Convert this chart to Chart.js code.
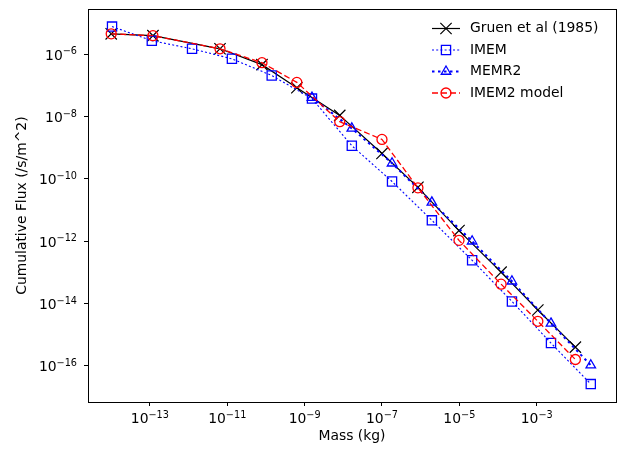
<!DOCTYPE html>
<html>
<head>
<meta charset="utf-8">
<script src="https://cdn.jsdelivr.net/npm/chart.js@4/dist/chart.umd.min.js"></script>
<style>
  html, body { margin: 0; padding: 0; background: #fff; }
  #wrap { width: 632px; height: 450px; }
</style>
</head>
<body>
<div id="wrap"><canvas id="fluxChart" width="632" height="450"></canvas></div>
<script>
// data (mass in kg, flux in /s/m^2)
const gruenMass = [1.0e-14, 1.2e-13, 6.5e-12, 7.9e-11, 6.3e-10, 8.1e-9, 1.0e-7, 8.5e-7, 9.8e-6, 1.2e-4, 1.07e-3, 1.0e-2];
const gruenFlux = [4.57e-6, 3.98e-6, 1.51e-6, 4.68e-7, 8.5e-8, 1.1e-8, 6.6e-10, 5.4e-11, 2.2e-12, 1.02e-13, 6.2e-15, 4.0e-16];

const imemMass = [1.05e-14, 1.12e-13, 1.23e-12, 1.32e-11, 1.41e-10, 1.55e-9, 1.66e-8, 1.82e-7, 1.95e-6, 2.14e-5, 2.29e-4, 2.34e-3, 2.5e-2];
const imemFlux = [7.8e-6, 2.75e-6, 1.51e-6, 7.2e-7, 2.1e-7, 3.8e-8, 1.17e-9, 8.3e-11, 4.7e-12, 2.45e-13, 1.17e-14, 5.4e-16, 2.6e-17];

const memr2Mass = [1.55e-9, 1.66e-8, 1.82e-7, 1.95e-6, 2.14e-5, 2.29e-4, 2.34e-3, 2.5e-2];
const memr2Flux = [4.1e-8, 4.2e-9, 3.2e-10, 1.78e-11, 1.0e-12, 5.2e-14, 2.3e-15, 1.05e-16];

const imem2Mass = [1.0e-14, 1.2e-13, 6.5e-12, 7.9e-11, 6.3e-10, 8.1e-9, 1.0e-7, 8.5e-7, 9.8e-6, 1.2e-4, 1.07e-3, 1.0e-2];
const imem2Flux = [4.57e-6, 3.98e-6, 1.51e-6, 5.4e-7, 1.26e-7, 6.9e-9, 1.86e-9, 5.2e-11, 1.07e-12, 4.2e-14, 2.7e-15, 1.6e-16];

const xTickExps = [-13, -11, -9, -7, -5, -3];
const yTickExps = [-16, -14, -12, -10, -8, -6];

const FONT = '"DejaVu Sans", sans-serif';

function pairs(xs, ys) {
    return xs.map((x, i) => ({ x: x, y: ys[i] }));
}

const datasets = [
    {
        label: 'Gruen et al (1985)',
        data: pairs(gruenMass, gruenFlux),
        borderColor: '#000000',
        borderWidth: 1.2,
        pointStyle: 'crossRot',
        pointRadius: 8,
        pointBorderWidth: 1.2,
        order: 4
    },
    {
        label: 'IMEM',
        data: pairs(imemMass, imemFlux),
        borderColor: '#0000ff',
        borderWidth: 1.1,
        borderDash: [2, 2.2],
        pointStyle: 'rect',
        pointRadius: 6.5,
        pointBorderWidth: 1.3,
        order: 3
    },
    {
        label: 'MEMR2',
        data: pairs(memr2Mass, memr2Flux),
        borderColor: '#0000ff',
        borderWidth: 2,
        borderDash: [2.5, 3.5],
        pointStyle: 'triangle',
        pointRadius: 5.5,
        pointBorderWidth: 1.3,
        order: 2
    },
    {
        label: 'IMEM2 model',
        data: pairs(imem2Mass, imem2Flux),
        borderColor: '#ff0000',
        borderWidth: 1.3,
        borderDash: [6, 3],
        pointStyle: 'circle',
        pointRadius: 5,
        pointBorderWidth: 1.3,
        order: 1
    }
];

datasets.forEach(ds => {
    ds.backgroundColor = 'rgba(0,0,0,0)';
    ds.pointBackgroundColor = 'rgba(0,0,0,0)';
    ds.pointBorderColor = ds.borderColor;
    ds.tension = 0;
    ds.fill = false;
});

// 10^n labels drawn the way matplotlib mathtext does it
function drawPower(ctx, exp, x, baseY, align) {
    const baseFont = '13.9px ' + FONT;
    const supFont = '9.7px ' + FONT;
    const supText = '\u2212' + Math.abs(exp);
    ctx.font = baseFont;
    const wBase = ctx.measureText('10').width;
    ctx.font = supFont;
    const wSup = ctx.measureText(supText).width;
    const total = wBase + wSup;
    let left = align === 'right' ? x - total : x - total / 2;
    ctx.fillStyle = '#000';
    ctx.textAlign = 'left';
    ctx.textBaseline = 'alphabetic';
    ctx.font = baseFont;
    ctx.fillText('10', left, baseY);
    ctx.font = supFont;
    ctx.fillText(supText, left + wBase, baseY - 5.4);
}

function drawMarker(ctx, style, x, y, r) {
    ctx.beginPath();
    if (style === 'crossRot') {
        const o = r * Math.SQRT1_2;
        ctx.moveTo(x - o, y - o); ctx.lineTo(x + o, y + o);
        ctx.moveTo(x - o, y + o); ctx.lineTo(x + o, y - o);
    } else if (style === 'rect') {
        const s = r * Math.SQRT1_2;
        ctx.rect(x - s, y - s, 2 * s, 2 * s);
    } else if (style === 'triangle') {
        ctx.moveTo(x, y - r);
        ctx.lineTo(x + r * Math.sin(Math.PI * 2 / 3), y - r * Math.cos(Math.PI * 2 / 3));
        ctx.lineTo(x + r * Math.sin(Math.PI * 4 / 3), y - r * Math.cos(Math.PI * 4 / 3));
        ctx.closePath();
    } else {
        ctx.arc(x, y, r, 0, Math.PI * 2);
    }
    ctx.stroke();
}

const framePlugin = {
    id: 'frameAndLabels',
    afterDraw(chart) {
        const ctx = chart.ctx;
        const a = chart.chartArea;
        ctx.save();
        // axes box
        ctx.strokeStyle = '#000';
        ctx.lineWidth = 1;
        ctx.setLineDash([]);
        ctx.strokeRect(Math.round(a.left) + 0.5, Math.round(a.top) + 0.5,
                       Math.round(a.right - a.left), Math.round(a.bottom - a.top));

        // tick labels
        const xs = chart.scales.x;
        xs.ticks.forEach(t => {
            const px = xs.getPixelForValue(t.value);
            drawPower(ctx, Math.round(Math.log10(t.value)), px, a.bottom + 21, 'center');
        });
        const ys = chart.scales.y;
        ys.ticks.forEach(t => {
            const py = ys.getPixelForValue(t.value);
            drawPower(ctx, Math.round(Math.log10(t.value)), a.left - 11, py + 5.5, 'right');
        });

        // legend, upper right
        const rowY = [28.5, 50, 71.5, 93];
        const handleX = 432, handleW = 28, textX = 470;
        chart.data.datasets.forEach((ds, i) => {
            const y = rowY[i];
            ctx.strokeStyle = ds.borderColor;
            ctx.lineWidth = ds.borderWidth;
            ctx.setLineDash(ds.borderDash || []);
            ctx.beginPath();
            ctx.moveTo(handleX, y);
            ctx.lineTo(handleX + handleW, y);
            ctx.stroke();
            ctx.setLineDash([]);
            ctx.lineWidth = ds.pointBorderWidth;
            drawMarker(ctx, ds.pointStyle, handleX + handleW / 2, y, ds.pointRadius);
            ctx.fillStyle = '#000';
            ctx.font = '13.9px ' + FONT;
            ctx.textAlign = 'left';
            ctx.textBaseline = 'middle';
            ctx.fillText(ds.label, textX, y);
        });
        ctx.restore();
    }
};

new Chart(document.getElementById('fluxChart').getContext('2d'), {
    type: 'line',
    data: { datasets: datasets },
    plugins: [framePlugin],
    options: {
        responsive: false,
        animation: false,
        devicePixelRatio: 1,
        layout: { padding: { top: 9, right: 16, left: 0, bottom: 0 } },
        plugins: {
            legend: { display: false },
            tooltip: { enabled: false }
        },
        scales: {
            x: {
                type: 'logarithmic',
                min: Math.pow(10, -14.6),
                max: Math.pow(10, -0.95),
                afterBuildTicks: scale => {
                    scale.ticks = xTickExps.map(e => ({ value: Math.pow(10, e) }));
                },
                afterFit: scale => { scale.height = 48; },
                grid: {
                    drawOnChartArea: false,
                    drawTicks: true,
                    tickLength: 4,
                    tickWidth: 1,
                    tickColor: '#000'
                },
                border: { display: false },
                ticks: { display: false },
                title: {
                    display: true,
                    text: 'Mass (kg)',
                    color: '#000',
                    font: { family: FONT, size: 13.9 },
                    padding: { top: 0, bottom: 5 }
                }
            },
            y: {
                type: 'logarithmic',
                min: Math.pow(10, -17.16),
                max: Math.pow(10, -4.55),
                afterBuildTicks: scale => {
                    scale.ticks = yTickExps.map(e => ({ value: Math.pow(10, e) }));
                },
                afterFit: scale => { scale.width = 88; },
                grid: {
                    drawOnChartArea: false,
                    drawTicks: true,
                    tickLength: 4,
                    tickWidth: 1,
                    tickColor: '#000'
                },
                border: { display: false },
                ticks: { display: false },
                title: {
                    display: true,
                    text: 'Cumulative Flux (/s/m^2)',
                    color: '#000',
                    font: { family: FONT, size: 13.9 },
                    padding: { top: 14.5, bottom: 0 }
                }
            }
        }
    }
});
</script>
</body>
</html>
